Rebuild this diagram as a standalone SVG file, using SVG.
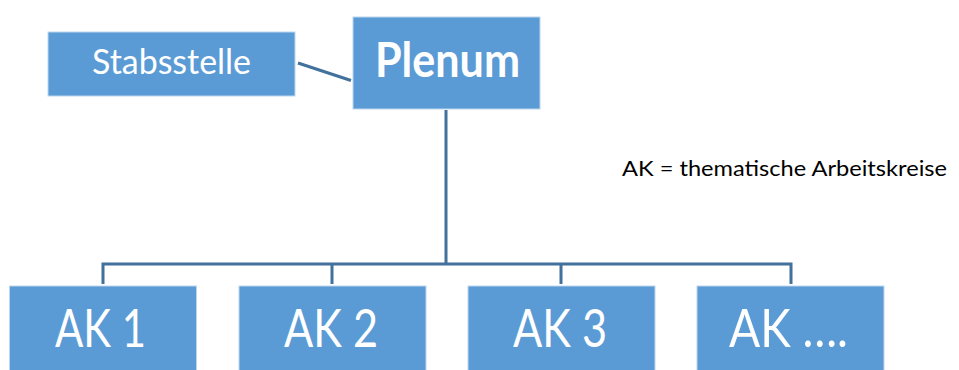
<svg xmlns="http://www.w3.org/2000/svg" width="959" height="370" viewBox="0 0 959 370">
<style>
.box{fill:#5B9BD5;stroke:#BDD7EE;stroke-width:1}
.lbl{fill:#ffffff;font-family:Lato,"Open Sans",sans-serif;text-anchor:middle}
.ak{font-size:52px}
.con{fill:none;stroke:#41719C;stroke-width:3}
</style>
<rect width="959" height="370" fill="#ffffff"/>
<g id="connectors">
<line class="con" x1="298" y1="63" x2="351" y2="80.5"/>
<line class="con" x1="446" y1="110" x2="446" y2="264"/>
<polyline class="con" points="103,284 103,264 791,264 791,284"/>
<line class="con" x1="332" y1="264" x2="332" y2="284"/>
<line class="con" x1="561" y1="264" x2="561" y2="284"/>
</g>
<g id="stabsstelle">
<rect class="box" x="48" y="32" width="247" height="64"/>
<text class="lbl" x="171.5" y="74" font-size="34" textLength="159" lengthAdjust="spacingAndGlyphs">Stabsstelle</text>
</g>
<g id="plenum">
<rect class="box" x="353" y="17" width="187" height="92"/>
<text class="lbl" x="447.5" y="77" font-size="47" font-weight="bold" textLength="145" lengthAdjust="spacingAndGlyphs">Plenum</text>
</g>
<g id="ak1">
<rect class="box" x="9.5" y="286" width="187" height="90"/>
<text class="lbl ak" x="100.5" y="347" textLength="91" lengthAdjust="spacingAndGlyphs">AK 1</text>
</g>
<g id="ak2">
<rect class="box" x="239" y="286" width="187" height="90"/>
<text class="lbl ak" x="331" y="347" textLength="94" lengthAdjust="spacingAndGlyphs">AK 2</text>
</g>
<g id="ak3">
<rect class="box" x="468" y="286" width="187" height="90"/>
<text class="lbl ak" x="560" y="347" textLength="94" lengthAdjust="spacingAndGlyphs">AK 3</text>
</g>
<g id="ak4">
<rect class="box" x="697" y="286" width="187" height="90"/>
<text class="lbl ak" x="788.5" y="347" textLength="119" lengthAdjust="spacingAndGlyphs">AK ….</text>
</g>
<g id="legend">
<text x="622" y="176" font-family="Lato,'Open Sans',sans-serif" font-size="22" fill="#000000" textLength="325" lengthAdjust="spacingAndGlyphs">AK = thematische Arbeitskreise</text>
</g>
</svg>
